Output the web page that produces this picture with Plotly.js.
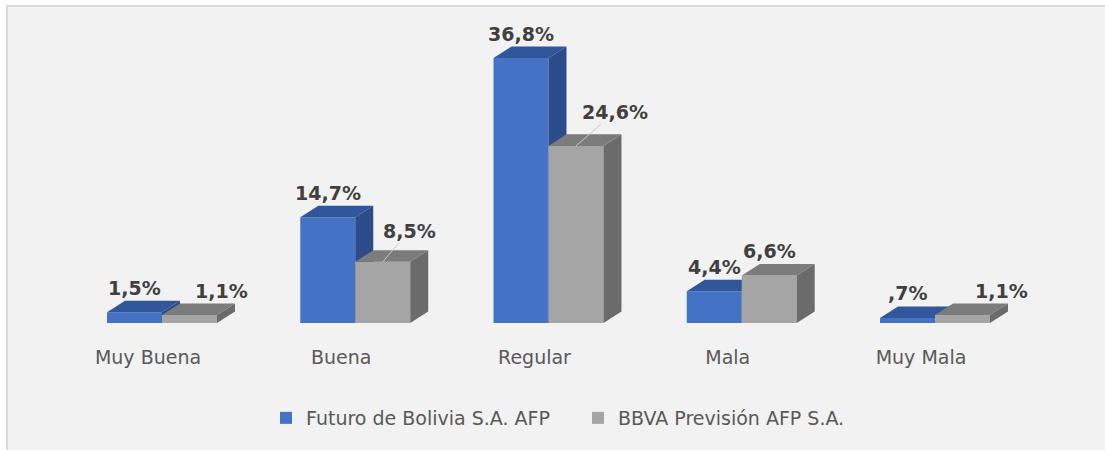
<!DOCTYPE html>
<html>
<head>
<meta charset="utf-8">
<script src="https://cdn.plot.ly/plotly-3.0.1.min.js"></script>
<style>html,body{margin:0;padding:0;background:#fff}#chart{width:1105px;height:450px}</style>
</head>
<body>
<div id="chart"></div>
<script>
// ---- data ----
const categories = ['Muy Buena', 'Buena', 'Regular', 'Mala', 'Muy Mala'];
const seriesNames = ['Futuro de Bolivia S.A. AFP', 'BBVA Previsión AFP S.A.'];
const futuro = [1.5, 14.7, 36.8, 4.4, 0.7];
const bbva = [1.1, 8.5, 24.6, 6.6, 1.1];

// ---- style ----
const W = 0.2845;      // bar width (x units)
const DX = 0.0931;     // 3D depth in x units
const DY = 1.6;        // 3D depth in y units
const colors = {
  f: {front: '#4472c4', top: '#31569b', side: '#2b4c88'},
  b: {front: '#a5a5a5', top: '#7c7c7c', side: '#6b6b6b'}
};
const FONT = 'DejaVu Sans, Verdana, sans-serif';

function fmt(v) {
  let s = v.toFixed(1).replace('.', ',');
  if (s.startsWith('0,')) s = s.slice(1);
  return s + '%';
}

const idx = categories.map((_, i) => i);

function faces(vals, shift, col, xa, ya) {
  const top = {x: [], y: []}, side = {x: [], y: []};
  vals.forEach((v, i) => {
    const c = i + shift;
    const l = c - W / 2, r = c + W / 2;
    top.x.push(l, r, r + DX, l + DX, l, null);
    top.y.push(v, v, v + DY, v + DY, v, null);
    side.x.push(r, r, r + DX, r + DX, r, null);
    side.y.push(0, v, v + DY, DY, 0, null);
  });
  const common = {type: 'scatter', mode: 'lines', fill: 'toself', line: {width: 0},
    hoverinfo: 'skip', showlegend: false, xaxis: xa, yaxis: ya};
  return [
    Object.assign({}, common, side, {fillcolor: col.side}),
    Object.assign({}, common, top, {fillcolor: col.top})
  ];
}

const traces = [
  {type: 'bar', name: seriesNames[0], x: idx.map(i => i - W / 2), y: futuro, width: W,
   marker: {color: colors.f.front, line: {width: 0}}, xaxis: 'x', yaxis: 'y', hoverinfo: 'y'},
  ...faces(futuro, -W / 2, colors.f, 'x', 'y'),
  {type: 'bar', name: seriesNames[1], x: idx.map(i => i + W / 2), y: bbva, width: W,
   marker: {color: colors.b.front, line: {width: 0}}, xaxis: 'x2', yaxis: 'y2', hoverinfo: 'y'},
  ...faces(bbva, W / 2, colors.b, 'x2', 'y2')
];

const labelFont = {family: FONT, size: 19, color: '#404040', weight: 'bold'};
const annotations = [];
futuro.forEach((v, i) => {
  annotations.push({x: i - W / 2, y: v + DY, xref: 'x', yref: 'y', text: fmt(v),
    showarrow: false, yanchor: 'bottom', font: labelFont});
});
// grey label placement (px offsets); arrow entries use leader lines
const bbvaLabelPos = [
  {dx: 32}, {ax: 26.5, ay: -31}, {ax: 39.5, ay: -34}, {dx: 0}, {dx: 39}
];
bbva.forEach((v, i) => {
  const p = bbvaLabelPos[i];
  if (p.ax !== undefined) {
    annotations.push({x: i + W / 2, y: v, xref: 'x', yref: 'y', text: fmt(v),
      showarrow: true, arrowhead: 0, arrowwidth: 1, arrowcolor: '#c8c8c8', standoff: 0,
      ax: p.ax, ay: p.ay, font: labelFont});
  } else {
    annotations.push({x: i + W / 2, y: v + DY, xref: 'x', yref: 'y', text: fmt(v),
      showarrow: false, yanchor: 'bottom', xshift: p.dx, font: labelFont});
  }
});

const xRange = [-162 / 193.25, (1105 - 162) / 193.25];
const yRange = [0, 323 / 7.2];

const layout = {
  width: 1105, height: 450,
  margin: {l: 0, r: 0, t: 0, b: 127, pad: 0},
  paper_bgcolor: '#ffffff', plot_bgcolor: 'rgba(0,0,0,0)',
  barmode: 'overlay',
  showlegend: true,
  legend: {orientation: 'h', x: 578 / 1105, xanchor: 'center', y: (323 - 418) / 323, yanchor: 'middle',
    font: {family: FONT, size: 19, color: '#595959'}, itemwidth: 30, entrywidth: 267,
    bgcolor: 'rgba(0,0,0,0)'},
  xaxis: {range: xRange, tickmode: 'array', tickvals: idx, ticktext: categories,
    showgrid: false, zeroline: false, showline: false, ticks: '', fixedrange: true,
    tickfont: {family: FONT, size: 19, color: '#595959'}, ticklabelstandoff: 21, ticklabelshift: -14},
  yaxis: {range: yRange, visible: false, fixedrange: true},
  xaxis2: {range: xRange, overlaying: 'x', visible: false},
  yaxis2: {range: yRange, overlaying: 'y', visible: false},
  annotations: annotations,
  shapes: [{type: 'rect', xref: 'paper', yref: 'paper', layer: 'below',
    x0: 7 / 1105, x1: 1.02, y0: -0.5, y1: (323 - 6) / 323,
    fillcolor: '#f2f2f2', line: {color: '#d9d9d9', width: 2}}]
};

Plotly.newPlot('chart', traces, layout, {displayModeBar: false, staticPlot: true});
</script>
</body>
</html>
